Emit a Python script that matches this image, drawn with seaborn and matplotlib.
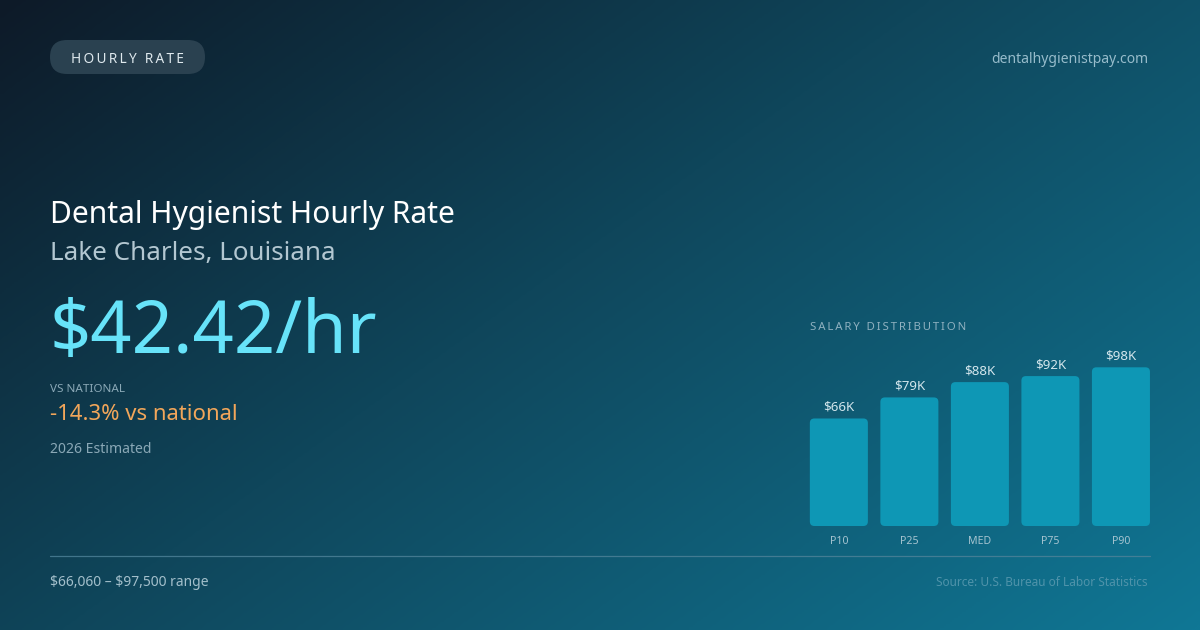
import numpy as np
import pandas as pd
import matplotlib
matplotlib.use("Agg")
import matplotlib.pyplot as plt
import seaborn as sns
from matplotlib.colors import LinearSegmentedColormap
from matplotlib.patches import FancyBboxPatch

# ---- data ----
percentile_labels = ["P10", "P25", "MED", "P75", "P90"]
salary_values = [66060, 79000, 88400, 92100, 97500]
hourly_rate = 42.42
vs_national_pct = -14.3
range_low = 66060
range_high = 97500
year_label = "2026 Estimated"

sns.set_theme(style="white")
plt.rcParams["font.family"] = ["Noto Sans", "DejaVu Sans"]

W, H = 1200, 630
fig = plt.figure(figsize=(12, 6.3), dpi=100)

def fx(px):
    return px / W

def fy(py):
    return 1 - py / H

def txt(x, y, s, **kw):
    return fig.text(fx(x), fy(y), s, va="baseline", parse_math=False, **kw)

# ---- background gradient ----
bg = fig.add_axes([0, 0, 1, 1])
bg.set_axis_off()
xx, yy = np.meshgrid(np.linspace(0, 1, 600), np.linspace(0, 1, 315))
t = (0.58 * xx + 0.42 * yy)
t = (t - t.min()) / (t.max() - t.min())
cmap = LinearSegmentedColormap.from_list(
    "bg", [(0, "#0d1a28"), (0.45, "#0f465b"), (1.0, "#0f7795")])
bg.imshow(t, cmap=cmap, aspect="auto", extent=[0, 1, 0, 1], origin="upper",
          interpolation="bilinear")
bg.set_xlim(0, 1)
bg.set_ylim(0, 1)

# pill
pill = FancyBboxPatch((fx(50), fy(74)), fx(155), 34 / H,
                      boxstyle="round,pad=0,rounding_size=0.0142",
                      mutation_aspect=W / H,
                      transform=bg.transAxes, facecolor="#2c4352",
                      edgecolor="none", alpha=0.95)
bg.add_patch(pill)
txt(127, 63, "\u2009".join("HOURLY RATE"), ha="center", fontsize=9.8,
    color="#dfe9ee")

txt(1148, 63, "dentalhygienistpay.com", ha="right", fontsize=10.05,
    color="#97bccb")

# headline texts
txt(50, 223, "Dental Hygienist Hourly Rate", ha="left", fontsize=21.6,
    color="#ffffff")
txt(50, 260, "Lake Charles, Louisiana", ha="left", fontsize=18.7,
    color="#b3c7d1")
txt(50, 353, f"${hourly_rate:.2f}/hr", ha="left", fontsize=52,
    color="#67e3f9")
txt(50, 392, "VS NATIONAL", ha="left", fontsize=8.4, color="#8aa8b6")
txt(50, 420, f"{vs_national_pct:.1f}% vs national", ha="left",
    fontsize=15.9, color="#f2a65a")
txt(50, 453, year_label, ha="left", fontsize=10.1, color="#8aa8b6")

# divider + footer
bg.plot([fx(50), fx(1150)], [fy(556), fy(556)], color="#4f8399",
        lw=0.9, alpha=0.8, transform=bg.transAxes)
txt(50, 586, f"${range_low:,} \u2013 ${range_high:,} range", ha="left",
    fontsize=10, color="#a3bfcb")
txt(1148, 586, "Source: U.S. Bureau of Labor Statistics", ha="right",
    fontsize=8.55, color="#4f93aa")

txt(810, 330, "\u2009".join("SALARY DISTRIBUTION"), ha="left",
    fontsize=8.2, color="#8fb1c0")

# ---- bar chart ----
left_px, right_px = 803.6, 1156.2
bottom_px, top_px = 526, 367.3
ax = fig.add_axes([fx(left_px), fy(bottom_px), fx(right_px - left_px),
                   (bottom_px - top_px) / H])
df = pd.DataFrame({"pct": percentile_labels, "salary": salary_values})
sns.barplot(data=df, x="pct", y="salary", ax=ax, color="#0e97b5",
            saturation=1, width=0.823, edgecolor="none")
ax.set_ylim(0, max(salary_values))
ax.set_xlim(-0.5, len(percentile_labels) - 0.5)
ax.patch.set_alpha(0)
for s in ax.spines.values():
    s.set_visible(False)
ax.set_yticks([])
ax.set_xlabel("")
ax.set_ylabel("")
ax.tick_params(axis="x", length=0, pad=7, labelsize=7.6, labelcolor="#a6c4d0")

# rounded corners
px_per_x = (right_px - left_px) / len(percentile_labels)
px_per_y = (bottom_px - top_px) / max(salary_values)
r_px = 4.5
rx = r_px / px_per_x
ry = r_px / px_per_y
for p in list(ax.patches):
    x0, y0 = p.get_x(), p.get_y()
    w, h = p.get_width(), p.get_height()
    fb = FancyBboxPatch((x0, y0), w, h,
                        boxstyle=f"round,pad=0,rounding_size={rx}",
                        mutation_aspect=ry / rx,
                        facecolor=p.get_facecolor(), edgecolor="none")
    p.remove()
    ax.add_patch(fb)

for i, v in enumerate(salary_values):
    ax.annotate(f"${v/1000:.0f}K", (i, v), xytext=(0, 8),
                textcoords="offset pixels", ha="center", va="baseline",
                fontsize=9.6, color="#d3e6ec", annotation_clip=False)

fig.savefig("out.png", dpi=100)
